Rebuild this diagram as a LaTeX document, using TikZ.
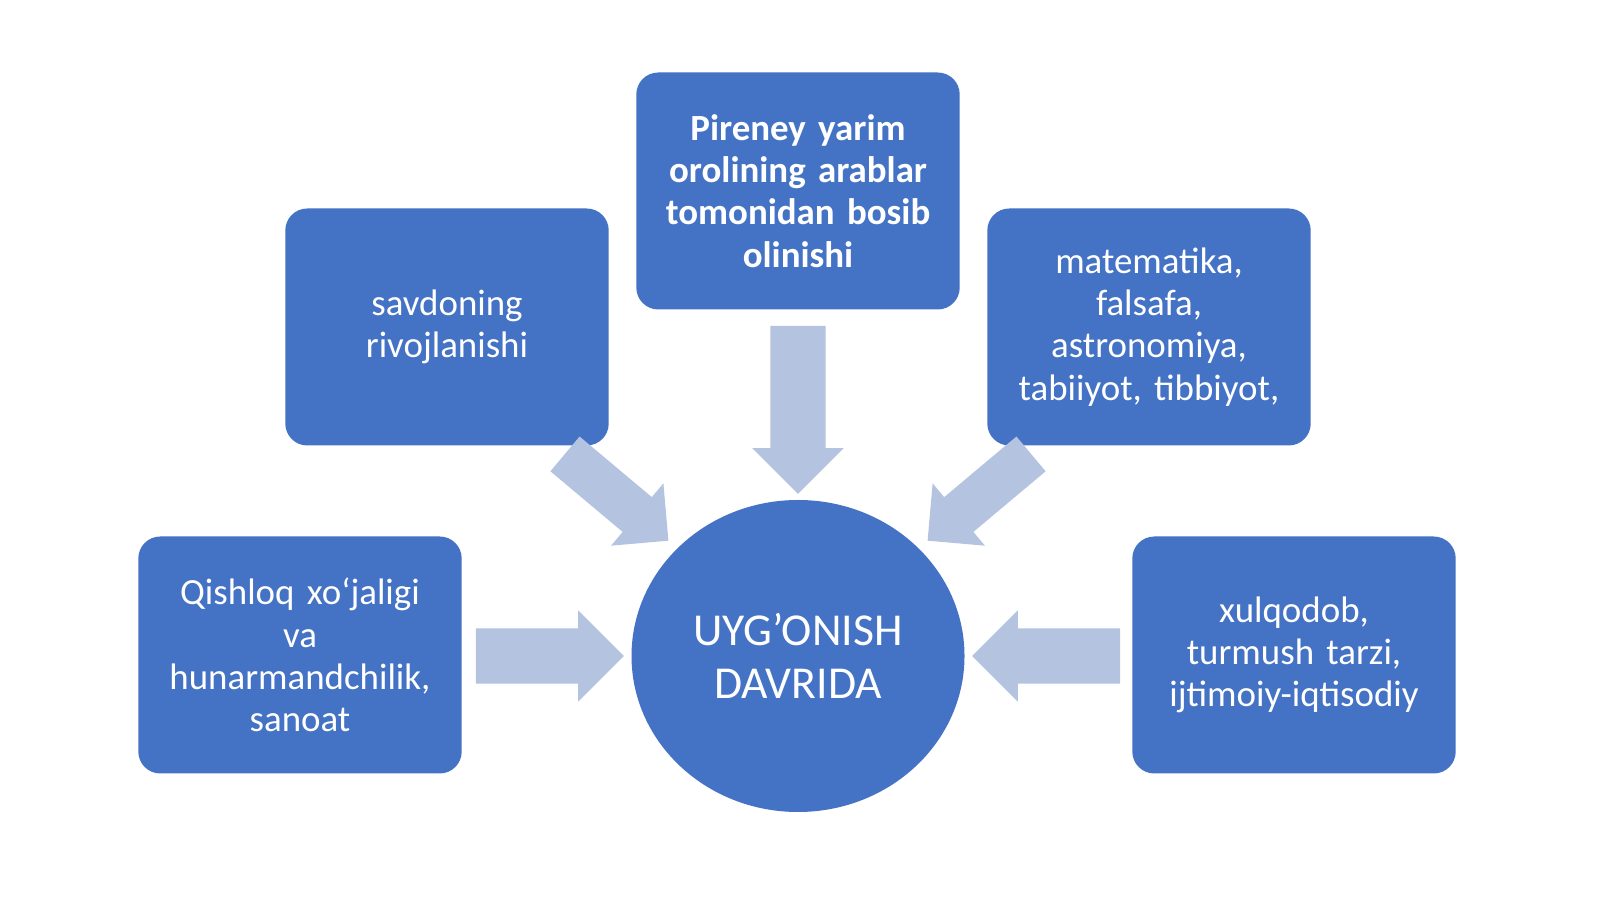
\documentclass[tikz,border=0pt]{standalone}
\usepackage{fontspec}
\setmainfont{Carlito}
\usetikzlibrary{shapes.geometric,shapes.arrows}
\definecolor{boxblue}{HTML}{4472C4}
\definecolor{arrowblue}{HTML}{B4C3E0}
\tikzset{
  topic/.style={draw=none, fill=boxblue, rounded corners=0.22cm, minimum width=3.19cm, minimum height=2.37cm,
    text width=3.0cm, align=center, text=white, font=\fontsize{10.5}{12}\selectfont},
  fatarrow/.style={single arrow, fill=arrowblue, draw=none, inner xsep=0pt, inner ysep=0.27cm,
    single arrow head extend=0.18cm, single arrow head indent=0cm}
}
\begin{document}
\begin{tikzpicture}[x=1cm, y=-1cm]
    \useasboundingbox (0,0) rectangle (16,8.99);
    % centre
    \node[ellipse, fill=boxblue, minimum width=3.33cm, minimum height=3.12cm, inner sep=0pt, align=center, text=white,
      font=\fontsize{13}{15}\selectfont] (core) at (7.98,6.56) {UYG’ONISH\\DAVRIDA};
    % boxes
    \node[topic, font=\bfseries\fontsize{10.5}{12}\selectfont] (arab) at (7.98,1.91) {Pireney yarim\\ orolining arablar\\ tomonidan bosib\\ olinishi};
    \node[topic] (trade) at (4.47,3.27) {savdoning\\ rivojlanishi};
    \node[topic] (science) at (11.49,3.27) {matematika,\\ falsafa,\\ astronomiya,\\ tabiiyot, tibbiyot,};
    \node[topic] (farm) at (3.00,6.55) {Qishloq xo‘jaligi\\ va\\ hunarmandchilik,\\ sanoat};
    \node[topic] (ethics) at (12.94,6.55) {xulqodob,\\ turmush tarzi,\\ ijtimoiy-iqtisodiy};
    % arrows
    \node[fatarrow, minimum height=1.68cm, rotate=-90] (a1) at (7.98,3.96) {};
    \node[fatarrow, minimum height=1.48cm] (a2) at (5.36,6.56) {};
    \node[fatarrow, minimum height=1.48cm, rotate=180] (a3) at (10.60,6.56) {};
    \node[fatarrow, minimum height=1.35cm, inner ysep=0.22cm, rotate=-40] (a4) at (6.08,4.90) {};
    \node[fatarrow, minimum height=1.35cm, inner ysep=0.22cm, rotate=220] (a5) at (9.88,4.90) {};
\end{tikzpicture}
\end{document}
